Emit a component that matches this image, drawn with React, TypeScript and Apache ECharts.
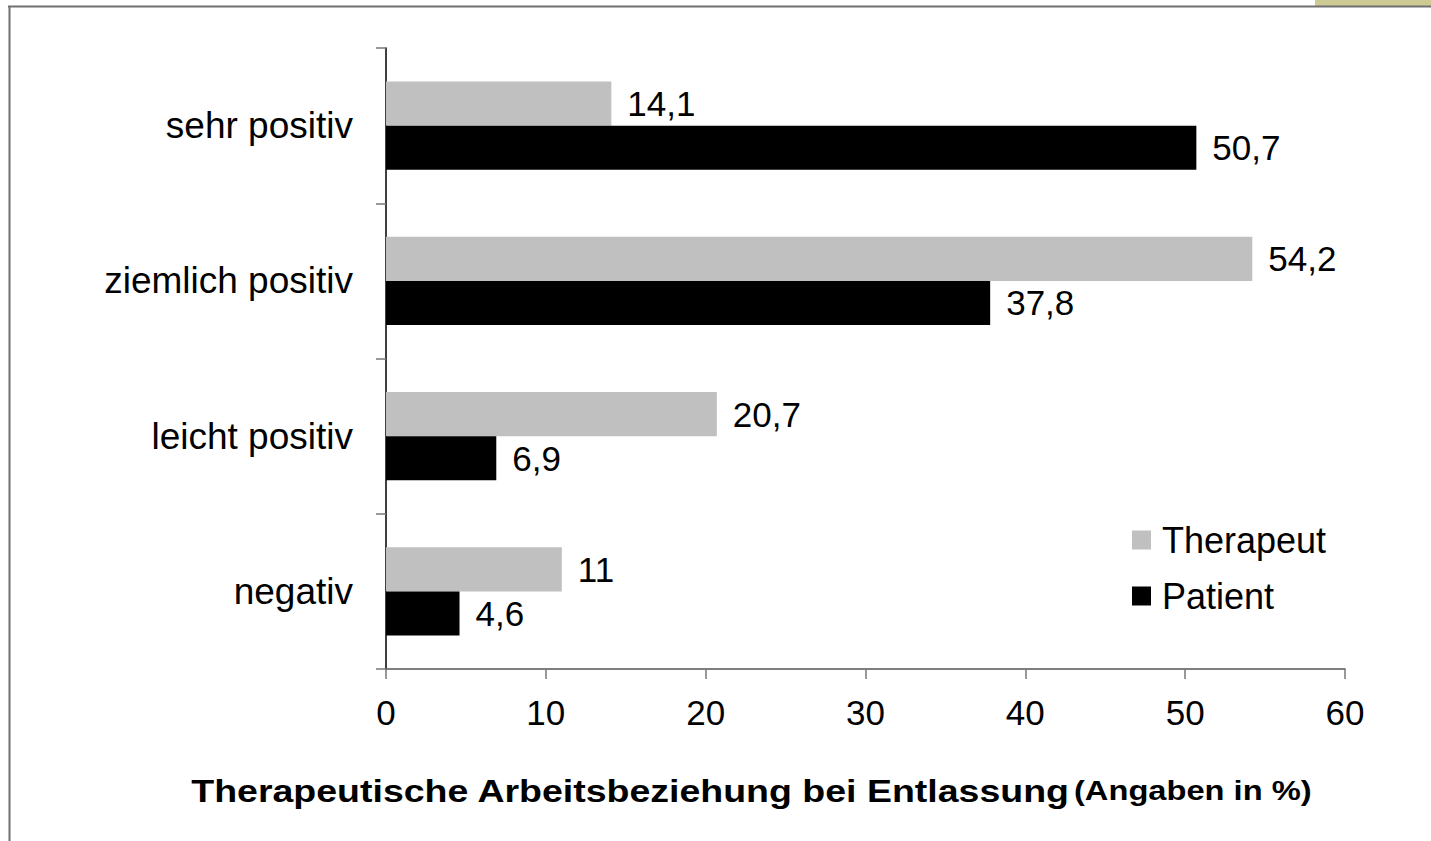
import React, { useEffect, useRef } from "react";
import * as echarts from "echarts";

const categories = ["sehr positiv", "ziemlich positiv", "leicht positiv", "negativ"];
const therapeutValues = [14.1, 54.2, 20.7, 11];
const patientValues = [50.7, 37.8, 6.9, 4.6];
const seriesNames = ["Therapeut", "Patient"];
const xTicks = { min: 0, max: 60, interval: 10 };
const titleMain = "Therapeutische Arbeitsbeziehung bei Entlassung";
const titleSub = "(Angaben in %)";

const FONT = "'Liberation Sans', Arial, Helvetica, sans-serif";

export default function App() {
  const ref = useRef<HTMLDivElement>(null);
  useEffect(() => {
    if (!ref.current) return;
    const chart = echarts.init(ref.current, undefined, { renderer: "svg" });
    const fmt = (p: any) => String(p.value).replace(".", ",");
    chart.setOption({
      animation: false,
      backgroundColor: "#ffffff",
      grid: { left: 386, right: 86, top: 48, bottom: 172, containLabel: false },
      legend: {
        orient: "vertical",
        left: 1132,
        top: 522,
        padding: 0,
        itemWidth: 19,
        itemHeight: 19,
        itemGap: 20,
        icon: "rect",
        data: seriesNames,
        textStyle: { fontFamily: FONT, fontSize: 36, color: "#000", padding: [0, 0, 0, 6] },
      },
      xAxis: {
        type: "value",
        min: xTicks.min,
        max: xTicks.max,
        interval: xTicks.interval,
        splitLine: { show: false },
        axisLine: { show: true, lineStyle: { color: "#555", width: 1.5 } },
        axisTick: { show: true, length: 10, lineStyle: { color: "#777", width: 1.5 } },
        axisLabel: { fontFamily: FONT, fontSize: 35, color: "#000", margin: 26 },
      },
      yAxis: {
        type: "category",
        inverse: true,
        data: categories,
        axisLine: { show: true, lineStyle: { color: "#000", width: 1.5 } },
        axisTick: { show: true, length: 10, lineStyle: { color: "#777", width: 1.5 } },
        axisLabel: { fontFamily: FONT, fontSize: 37, color: "#000", margin: 33 },
      },
      series: [
        {
          name: seriesNames[0],
          type: "bar",
          data: therapeutValues,
          itemStyle: { color: "#c0c0c0" },
          barGap: "0%",
          barCategoryGap: "43.3%",
          label: { show: true, position: "right", distance: 16, fontFamily: FONT, fontSize: 35, color: "#000", formatter: fmt },
        },
        {
          name: seriesNames[1],
          type: "bar",
          data: patientValues,
          itemStyle: { color: "#000000" },
          barGap: "0%",
          barCategoryGap: "43.3%",
          label: { show: true, position: "right", distance: 16, fontFamily: FONT, fontSize: 35, color: "#000", formatter: fmt },
        },
      ],
      graphic: [
        { type: "rect", shape: { x: 1315, y: 0, width: 116, height: 6 }, style: { fill: "#cdca94" } },
        { type: "line", shape: { x1: 8, y1: 6.5, x2: 1431, y2: 6.5 }, style: { stroke: "#707070", lineWidth: 2 } },
        { type: "line", shape: { x1: 9.5, y1: 6, x2: 9.5, y2: 841 }, style: { stroke: "#707070", lineWidth: 2 } },
        {
          type: "text",
          x: 751,
          y: 791,
          scaleX: 1.21,
          style: {
            text: "{a|" + titleMain + "} {b|" + titleSub + "}",
            textAlign: "center",
            textVerticalAlign: "middle",
            rich: {
              a: { fontFamily: FONT, fontSize: 31, fontWeight: "bold", fill: "#000", color: "#000" },
              b: { fontFamily: FONT, fontSize: 27, fontWeight: "bold", fill: "#000", color: "#000" },
            },
          },
        },
      ],
    });
    return () => chart.dispose();
  }, []);
  return (
    <div
      ref={ref}
      style={{ position: "fixed", left: 0, top: 0, width: 1431, height: 841, background: "#fff" }}
    />
  );
}
